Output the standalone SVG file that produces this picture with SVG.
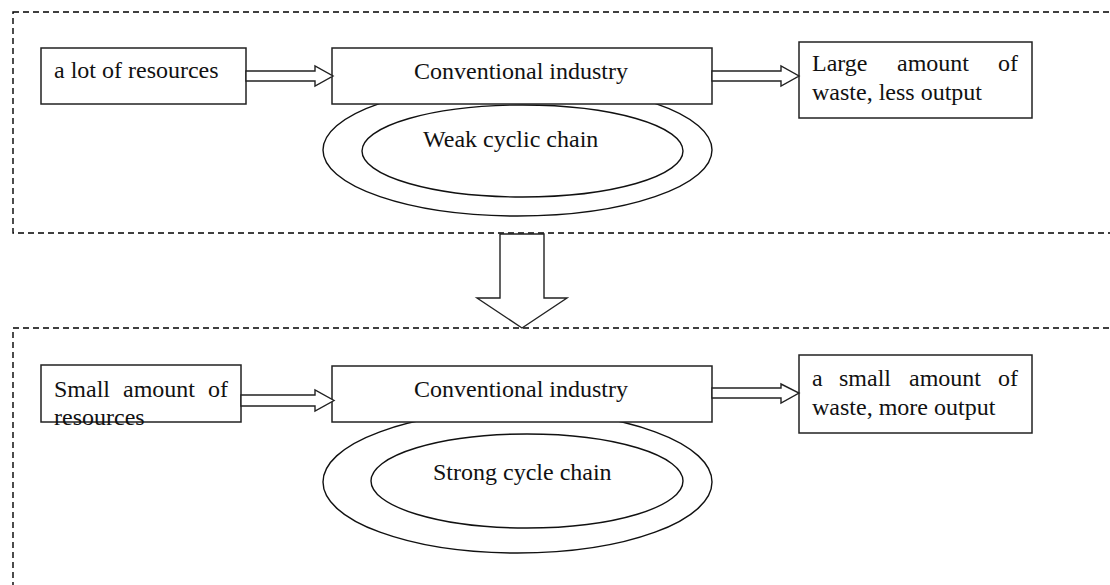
<svg xmlns="http://www.w3.org/2000/svg" width="1110" height="585" viewBox="0 0 1110 585">
<style>
.frame{fill:none;stroke:#000;stroke-width:1.4;stroke-dasharray:6,4}
.box{fill:#fff;stroke:#222;stroke-width:1.5}
.ell{fill:#fff;stroke:#111;stroke-width:1.4}
.arr{fill:#fff;stroke:#222;stroke-width:1.4;stroke-linejoin:miter}
text{font-family:"Liberation Serif","Times New Roman",serif;font-size:24px;fill:#111}
</style>
<rect width="1110" height="585" fill="#fff"/>
<g id="frames">
<rect class="frame" x="13" y="12" width="1120" height="221"/>
<rect class="frame" x="13" y="328" width="1120" height="300"/>
</g>
<g id="top-cycle">
<ellipse class="ell" cx="517.5" cy="150" rx="194.5" ry="66"/>
<ellipse class="ell" cx="522.5" cy="151" rx="160.5" ry="46"/>
<text x="423" y="147">Weak cyclic chain</text>
</g>
<g id="bottom-cycle">
<ellipse class="ell" cx="517.5" cy="482" rx="194.5" ry="71"/>
<ellipse class="ell" cx="527" cy="481" rx="156" ry="47"/>
<text x="433" y="480">Strong cycle chain</text>
</g>
<g id="top-resources">
<rect class="box" x="41" y="48" width="205" height="56"/>
<text x="54" y="78">a lot of resources</text>
</g>
<g id="top-industry">
<rect class="box" x="332" y="48" width="380" height="56"/>
<text x="414" y="79">Conventional industry</text>
</g>
<g id="top-output">
<rect class="box" x="799" y="42" width="233" height="76"/>
<text y="71"><tspan x="812">Large</tspan><tspan x="897">amount</tspan><tspan x="998">of</tspan></text>
<text x="812" y="100">waste, less output</text>
</g>
<g id="bottom-resources">
<rect class="box" x="41" y="365" width="200" height="57"/>
<text y="397"><tspan x="54">Small</tspan><tspan x="123">amount</tspan><tspan x="208">of</tspan></text>
<text x="54" y="425">resources</text>
</g>
<g id="bottom-industry">
<rect class="box" x="332" y="366" width="380" height="56"/>
<text x="414" y="397">Conventional industry</text>
</g>
<g id="bottom-output">
<rect class="box" x="799" y="355" width="233" height="78"/>
<text y="386"><tspan x="812">a</tspan><tspan x="839">small</tspan><tspan x="909">amount</tspan><tspan x="998">of</tspan></text>
<text x="812" y="415">waste, more output</text>
</g>
<g id="connectors">
<polygon class="arr" points="246,71 315,71 315,66 333,76 315,86 315,81 246,81"/>
<polygon class="arr" points="712,71 781,71 781,66 799,76 781,86 781,81 712,81"/>
<polygon class="arr" points="241,395 315,395 315,390 334,400.5 315,411 315,406 241,406"/>
<polygon class="arr" points="712,388 781,388 781,384 799,393 781,403 781,398 712,398"/>
<polygon class="arr" points="500,234 544,234 544,298 567,298 522,328 477,298 500,298"/>
</g>
</svg>
